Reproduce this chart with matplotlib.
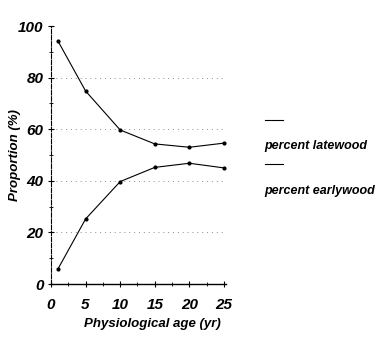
import matplotlib
matplotlib.use("Agg")
import matplotlib.pyplot as plt
from matplotlib.lines import Line2D
from matplotlib.ticker import MultipleLocator

# data
age = [1, 5, 10, 15, 20, 25]
latewood = [94.2, 74.8, 59.7, 54.3, 53.0, 54.6]
earlywood = [5.8, 25.2, 39.7, 45.2, 46.8, 45.0]
labels = ["percent latewood", "percent earlywood"]
grid_levels = [20, 40, 60, 80]

plt.rcParams['font.family'] = ['Liberation Sans', 'DejaVu Sans']
font = dict(weight='bold', style='italic')

fig = plt.figure(figsize=(3.91, 3.39), dpi=100)
ax = fig.add_axes([51/391, 1-284/339, 175/391, 258/339])

# dotted horizontal grid, only at the inner levels
for g in grid_levels:
    ax.axhline(g, linestyle=(0, (1, 4)), color='0.55', lw=0.7, zorder=0)

ax.plot(age, latewood, 'k-', lw=0.8, marker='o', ms=2)
ax.plot(age, earlywood, 'k-', lw=0.8, marker='o', ms=2)

ax.set_xlim(0, 25.3)
ax.set_ylim(0, 100)
ax.xaxis.set_major_locator(MultipleLocator(5))
ax.xaxis.set_minor_locator(MultipleLocator(2.5))
ax.yaxis.set_major_locator(MultipleLocator(20))
ax.yaxis.set_minor_locator(MultipleLocator(10))
for s in ['top', 'right']:
    ax.spines[s].set_visible(False)
ax.spines['left'].set_linestyle((0, (4, 1.5)))
ax.spines['left'].set_linewidth(0.8)
ax.spines['bottom'].set_linewidth(1.0)
ax.tick_params(direction='inout', length=4, width=0.8)
ax.tick_params(axis='x', pad=8)
ax.tick_params(which='minor', direction='inout', length=3, width=0.6)

for lab in ax.get_xticklabels() + ax.get_yticklabels():
    lab.set_fontweight('bold')
    lab.set_fontstyle('italic')
    lab.set_fontsize(11)

ax.set_xlabel("Physiological age (yr)", fontsize=9.5, **font)
ax.xaxis.set_label_coords(0.58, -0.13)
ax.set_ylabel("Proportion (%)", fontsize=9.5, **font)
ax.yaxis.set_label_coords(-0.17, 0.5)

# legend: line sample above each label
fig.add_artist(Line2D([265/391, 283/391], [1-120/339, 1-120/339], color='k', lw=0.8))
fig.text(264/391, 1-146/339, labels[0], fontsize=9, va='center', **font)
fig.add_artist(Line2D([265/391, 283/391], [1-164/339, 1-164/339], color='k', lw=0.8))
fig.text(264/391, 1-191/339, labels[1], fontsize=9, va='center', **font)

fig.savefig("out.png", dpi=100)
